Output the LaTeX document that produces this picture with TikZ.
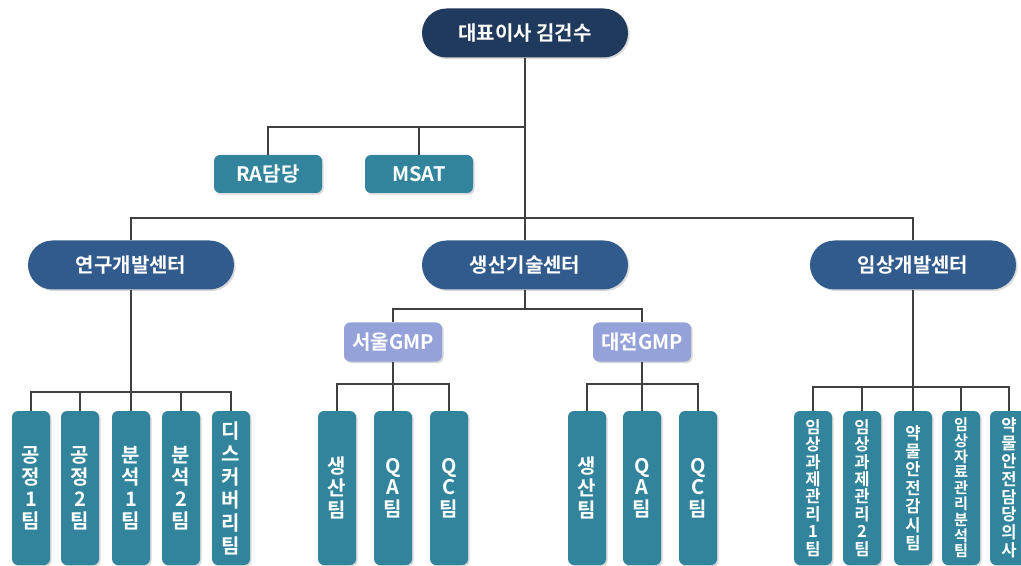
\documentclass[tikz,border=0pt]{standalone}
\usepackage{fontspec}
\setmainfont{Noto Sans CJK KR}[BoldFont={Noto Sans CJK KR Bold}]
\usetikzlibrary{shadows}

\definecolor{ceoblue}{HTML}{203A5E}
\definecolor{hubblue}{HTML}{325B8D}
\definecolor{teamteal}{HTML}{31849B}
\definecolor{gmplav}{HTML}{95A2DA}
\definecolor{linegray}{HTML}{404040}

\begin{document}
\begin{tikzpicture}[
  x=0.5pt, y=-0.5pt,
  box/.style={text=white, inner sep=0pt, font=\bfseries\fontsize{10}{11}\selectfont,
    drop shadow={shadow xshift=0.8pt, shadow yshift=-0.8pt, opacity=0.3}},
  pill/.style={box, rounded corners=12.25pt, minimum width=103pt, minimum height=24.5pt},
  ceo/.style={pill, fill=ceoblue},
  hub/.style={pill, fill=hubblue},
  staff/.style={box, fill=teamteal, rounded corners=3pt, minimum width=54pt, minimum height=19pt},
  gmp/.style={box, fill=gmplav, rounded corners=3pt, minimum width=49pt, minimum height=19.5pt},
  team/.style={box, fill=teamteal, rounded corners=3pt, minimum width=19pt, minimum height=77pt, align=center},
  link/.style={draw=linegray, line width=0.6pt}
]

\useasboundingbox (0,0) rectangle (1021,566);

% Parâmetros gerais
\def\teamY{488}   % centro das caixas de equipe

% ==========================================================
% Topo: diretor e staff
% ==========================================================
\node[ceo] (ceo) at (525,33) {대표이사 김건수};
\node[staff] (ra) at (268,174) {RA담당};
\node[staff] (msat) at (419,174) {MSAT};

% ==========================================================
% Centros
% ==========================================================
\node[hub] (rnd) at (131,265) {연구개발센터};
\node[hub] (prod) at (525,265) {생산기술센터};
\node[hub] (clin) at (913,265) {임상개발센터};

\coordinate (staffbus) at (525,127);
\coordinate (hubbus) at (525,218);
\draw[link] (ceo.south) -- (prod.north);
\draw[link] (staffbus) -| (ra.north);
\draw[link] (staffbus) -| (msat.north);
\draw[link] (hubbus) -| (rnd.north);
\draw[link] (hubbus) -| (clin.north);

% ==========================================================
% 연구개발센터
% ==========================================================
\node[team] (rd1) at (31,\teamY) {공\\정\\1\\팀};
\node[team] (rd2) at (80,\teamY) {공\\정\\2\\팀};
\node[team] (rd3) at (131,\teamY) {분\\석\\1\\팀};
\node[team] (rd4) at (181,\teamY) {분\\석\\2\\팀};
\node[team, font=\bfseries\fontsize{10}{11.5}\selectfont] (rd5) at (231,\teamY)
  {디\\스\\커\\버\\리\\팀};

\coordinate (rndbus) at (131,392);
\draw[link] (rnd.south) -- (rndbus);
\foreach \nm in {rd1,rd2,rd3,rd4,rd5}
  \draw[link] (rndbus) -| (\nm.north);

% ==========================================================
% 생산기술센터
% ==========================================================
\node[gmp] (seoul) at (393,342) {서울GMP};
\node[gmp] (daejeon) at (642,342) {대전GMP};

\coordinate (prodbus) at (525,309);
\draw[link] (prod.south) -- (prodbus);
\draw[link] (prodbus) -| (seoul.north);
\draw[link] (prodbus) -| (daejeon.north);

\tikzset{mid/.style={team, font=\bfseries\fontsize{10}{10.8}\selectfont}}
\node[mid] (sp) at (337,\teamY) {생\\산\\팀};
\node[mid] (sqa) at (393,\teamY) {Q\\A\\팀};
\node[mid] (sqc) at (449,\teamY) {Q\\C\\팀};
\node[mid] (dp) at (587,\teamY) {생\\산\\팀};
\node[mid] (dqa) at (642,\teamY) {Q\\A\\팀};
\node[mid] (dqc) at (698,\teamY) {Q\\C\\팀};

\coordinate (seoulbus) at (393,384);
\coordinate (daejeonbus) at (642,384);
\draw[link] (seoul.south) -- (seoulbus);
\draw[link] (daejeon.south) -- (daejeonbus);
\foreach \nm in {sp,sqa,sqc}
  \draw[link] (seoulbus) -| (\nm.north);
\foreach \nm in {dp,dqa,dqc}
  \draw[link] (daejeonbus) -| (\nm.north);

% ==========================================================
% 임상개발센터
% ==========================================================
\node[team, font=\bfseries\fontsize{8.3}{8.7}\selectfont] (cl1) at (813,\teamY)
  {임\\상\\과\\제\\관\\리\\1\\팀};
\node[team, font=\bfseries\fontsize{8.3}{8.7}\selectfont] (cl2) at (862,\teamY)
  {임\\상\\과\\제\\관\\리\\2\\팀};
\node[team, font=\bfseries\fontsize{8.3}{9.2}\selectfont] (cl3) at (913,\teamY)
  {약\\물\\안\\전\\감\\시\\팀};
\node[team, font=\bfseries\fontsize{7.6}{7.9}\selectfont] (cl4) at (961,\teamY)
  {임\\상\\자\\료\\관\\리\\분\\석\\팀};
\node[team, font=\bfseries\fontsize{8.3}{8.9}\selectfont] (cl5) at (1009,\teamY)
  {약\\물\\안\\전\\담\\당\\의\\사};

\coordinate (clinbus) at (913,387);
\draw[link] (clin.south) -- (clinbus);
\foreach \nm in {cl1,cl2,cl3,cl4,cl5}
  \draw[link] (clinbus) -| (\nm.north);

\end{tikzpicture}
\end{document}
